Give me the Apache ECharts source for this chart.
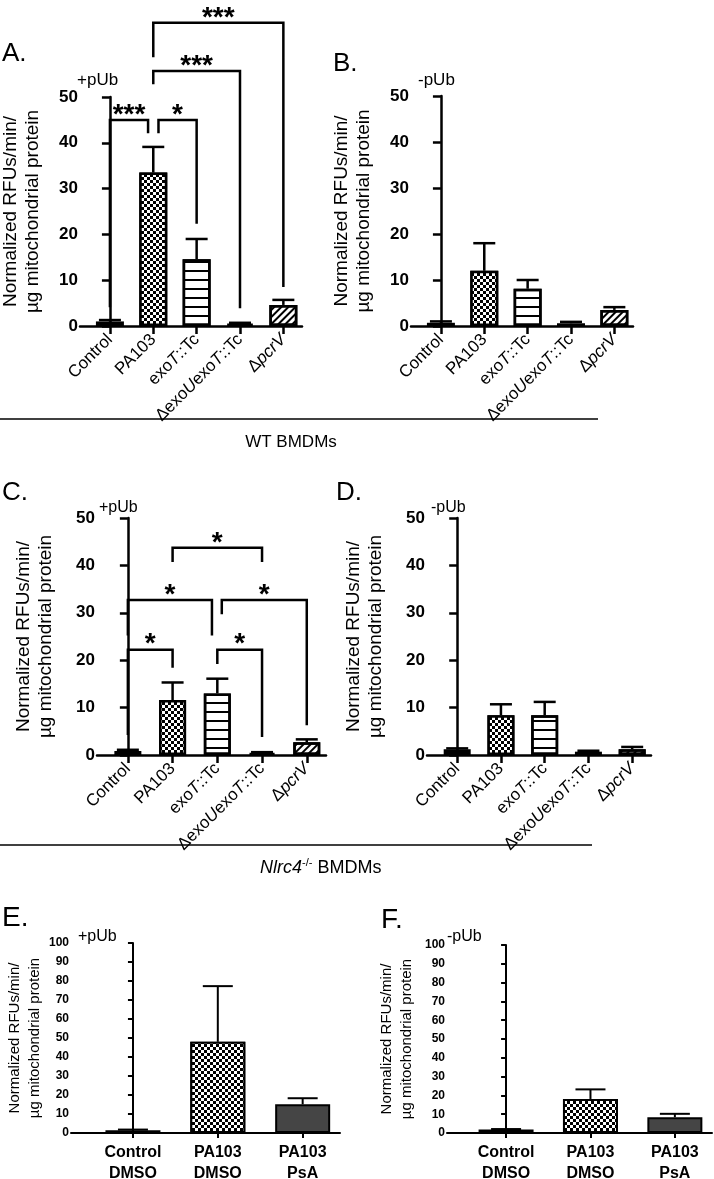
<!DOCTYPE html>
<html>
<head>
<meta charset="utf-8">
<script src="https://cdn.jsdelivr.net/npm/echarts@6/dist/echarts.min.js"></script>
<style>
  html, body { margin: 0; padding: 0; background: #fff; }
  #chart { width: 714px; height: 1179px; }
</style>
</head>
<body>
<div id="chart"></div>
<script>
// categories
const strainLabels = [
  '{n|Control}',
  '{n|PA103}',
  '{n|exo}{i|T}{n|::Tc}',
  '{n|Δexo}{i|U}{n|exo}{i|T}{n|::Tc}',
  '{n|Δ}{i|pcrV}'
];
const drugLabels = ['Control\nDMSO', 'PA103\nDMSO', 'PA103\nPsA'];

// mean and upper error (mean + SEM) per panel
const meanA = [1.0, 33.5, 14.6, 0.5, 4.6];
const errA  = [1.3, 39.1, 19.0, 0.7, 5.7];
const meanB = [0.7, 12.0, 8.1, 0.6, 3.5];
const errB  = [1.0, 18.0, 10.0, 0.9, 4.1];
const meanC = [0.85, 11.6, 13.0, 0.4, 2.7];
const errC  = [1.1, 15.3, 16.1, 0.6, 3.3];
const meanD = [1.2, 8.4, 8.4, 0.7, 1.2];
const errD  = [1.4, 10.7, 11.2, 0.9, 1.7];
const meanE = [1.5, 48.0, 15.1];
const errE  = [1.8, 77.3, 18.3];
const meanF = [1.8, 18.1, 8.4];
const errF  = [2.1, 23.2, 10.2];

// significance brackets: [x left, x right, top, left leg end, right leg end]
const bracketsA = [
  [0, 0.88, 45, 4.1, 42.1],
  [1.12, 2, 45, 42.1, 22.3],
  [1, 3, 55.7, 52.8, 3.9],
  [1, 4, 66.2, 58.7, 8.5]
];
const starsA = ['***', '*', '***', '***'];
const bracketsC = [
  [0, 1, 22.2, 4.2, 18.4],
  [2, 3, 22.2, 19.2, 3.8],
  [0, 1.88, 32.7, 25.2, 25.2],
  [2.1, 4, 32.7, 29.7, 6.3],
  [1, 3, 43.7, 40.7, 40.7]
];
const starsC = ['*', '*', '*', '*', '*'];

const FONT = '"Liberation Sans", Arial, Helvetica, sans-serif';
const yName = 'Normalized RFUs/min/\nµg mitochondrial protein';

const fills = {
  solid: { color: '#000' },
  gray: { color: '#454545' },
  checker: { color: '#000', decal: { symbol: 'rect', symbolSize: 1, color: '#fff',
    dashArrayX: [[3, 3], [0, 3, 3, 0]], dashArrayY: [3, 0] } },
  hstripe: { color: '#fff', decal: { symbol: 'rect', symbolSize: 1, color: '#000',
    dashArrayX: [1, 0], dashArrayY: [1.6, 6.7], rotation: 0 } },
  diag: { color: '#fff', decal: { symbol: 'rect', symbolSize: 1, color: '#000',
    dashArrayX: [1, 0], dashArrayY: [2, 2.5], rotation: -Math.PI / 4 } }
};
const strainFill = ['solid', 'checker', 'hstripe', 'solid', 'diag'];
const drugFill = ['solid', 'checker', 'gray'];

const grids = [], xAxes = [], yAxes = [], series = [];

function addPanel(p) {
  const k = grids.length;
  grids.push({ left: p.left, top: p.top, width: p.width, height: p.height, outerBoundsMode: 'none' });
  const ticks = p.means.map((_, i) => i);
  xAxes.push({
    gridIndex: k, type: 'value', min: p.xmin, max: p.xmax,
    splitLine: { show: false },
    axisLine: { lineStyle: { color: '#000', width: p.lw } },
    axisTick: { customValues: ticks, length: p.tickLen, lineStyle: { color: '#000', width: p.lw } },
    axisLabel: p.labelCfg
  });
  yAxes.push({
    gridIndex: k, type: 'value', min: 0, max: p.ymax, interval: 10,
    splitLine: { show: false },
    axisLine: { show: true, lineStyle: { color: '#000', width: p.lw } },
    axisTick: { show: true, length: p.tickLen, lineStyle: { color: '#000', width: p.lw } },
    axisLabel: { color: '#000', fontSize: p.yFont, fontWeight: 'bold', fontFamily: FONT, margin: 2 },
    name: yName, nameLocation: 'middle', nameRotate: 90, nameGap: p.nameGap,
    nameTextStyle: { color: '#000', fontSize: p.nameFont, lineHeight: p.nameLine, fontFamily: FONT }
  });
  series.push({
    type: 'bar', xAxisIndex: k, yAxisIndex: k, barWidth: p.barWidth,
    data: p.means.map((v, i) => ({
      value: [i, v],
      itemStyle: Object.assign({ borderColor: '#000', borderWidth: p.lw }, fills[p.fill[i]])
    })),
    animation: false
  });
  series.push({
    type: 'custom', xAxisIndex: k, yAxisIndex: k, clip: false, z: 5,
    data: p.means.map((v, i) => [i, v, p.errs[i]]),
    renderItem: (params, api) => {
      const a = api.coord([api.value(0), api.value(1)]);
      const b = api.coord([api.value(0), api.value(2)]);
      const w = p.capWidth / 2;
      const st = { stroke: '#000', lineWidth: p.lw };
      return { type: 'group', children: [
        { type: 'line', shape: { x1: a[0], y1: a[1], x2: b[0], y2: b[1] }, style: st },
        { type: 'line', shape: { x1: b[0] - w, y1: b[1], x2: b[0] + w, y2: b[1] }, style: st }
      ] };
    },
    animation: false
  });
  if (p.brackets) {
    series.push({
      type: 'custom', xAxisIndex: k, yAxisIndex: k, clip: false, z: 6,
      data: p.brackets,
      renderItem: (params, api) => {
        const x1 = api.value(0), x2 = api.value(1), top = api.value(2);
        const pl = api.coord([x1, api.value(3)]);
        const tl = api.coord([x1, top]);
        const tr = api.coord([x2, top]);
        const pr = api.coord([x2, api.value(4)]);
        return { type: 'group', children: [
          { type: 'polyline', shape: { points: [pl, tl, tr, pr] },
            style: { stroke: '#000', lineWidth: p.lw, fill: null } },
          { type: 'text', style: { text: p.stars[params.dataIndex], x: (tl[0] + tr[0]) / 2, y: tl[1] - 5,
            align: 'center', verticalAlign: 'middle', font: 'bold 28px ' + FONT, fill: '#000' } }
        ] };
      },
      animation: false
    });
  }
}

const strainLabelCfg = {
  customValues: [0, 1, 2, 3, 4], rotate: 45, margin: 11, color: '#000',
  formatter: v => strainLabels[v],
  rich: {
    n: { fontSize: 17, fontFamily: FONT, color: '#000' },
    i: { fontSize: 17, fontFamily: FONT, fontStyle: 'italic', color: '#000' }
  }
};
const drugLabelCfg = {
  customValues: [0, 1, 2], margin: 9, color: '#000', fontSize: 16, fontWeight: 'bold', lineHeight: 21, fontFamily: FONT,
  formatter: v => drugLabels[v]
};

const common = { lw: 2.5, tickLen: 8, yFont: 17, nameFont: 19, nameLine: 22, nameGap: 36,
  barWidth: 28, capWidth: 22, ymax: 50, xmin: -0.69, xmax: 4.43, labelCfg: strainLabelCfg, fill: strainFill };

addPanel(Object.assign({}, common, { left: 80, top: 97, width: 222, height: 229,
  means: meanA, errs: errA, brackets: bracketsA, stars: starsA }));
addPanel(Object.assign({}, common, { left: 411, top: 96, width: 222, height: 230,
  means: meanB, errs: errB }));
addPanel(Object.assign({}, common, { left: 97, top: 518, width: 229, height: 237, barWidth: 27,
  means: meanC, errs: errC, brackets: bracketsC, stars: starsC, nameGap: 40 }));
addPanel(Object.assign({}, common, { left: 427, top: 518, width: 224, height: 237, barWidth: 27,
  means: meanD, errs: errD, nameGap: 40 }));

const commonEF = { lw: 2, tickLen: 5, yFont: 12, nameFont: 15, nameLine: 20, barWidth: 55, capWidth: 30,
  ymax: 100, labelCfg: drugLabelCfg, fill: drugFill };
addPanel(Object.assign({}, commonEF, { left: 71, top: 943, width: 269, height: 190, xmin: -0.73, xmax: 2.44,
  means: meanE, errs: errE, nameGap: 26 }));
addPanel(Object.assign({}, commonEF, { left: 447, top: 945, width: 265, height: 188, xmin: -0.70, xmax: 2.44,
  means: meanF, errs: errF, nameGap: 30 }));

function txt(text, x, y, size, extra) {
  return { type: 'text', x: x, y: y, silent: true,
    style: Object.assign({ text: text, font: size + 'px ' + FONT, fill: '#000', verticalAlign: 'middle' }, extra || {}) };
}

const graphic = [
  txt('A.', 2, 54, 26), txt('B.', 333, 64, 26), txt('C.', 2, 493, 26),
  txt('D.', 336, 493, 26), txt('E.', 2, 918, 28), txt('F.', 381, 920, 28),
  txt('+pUb', 77, 80, 17), txt('-pUb', 418, 80, 17), txt('+pUb', 99, 508, 16),
  txt('-pUb', 431, 508, 16), txt('+pUb', 78, 937, 16), txt('-pUb', 447, 937, 16),
  { type: 'line', shape: { x1: 0, y1: 419, x2: 598, y2: 419 }, style: { stroke: '#000', lineWidth: 1.5 } },
  { type: 'line', shape: { x1: 0, y1: 845, x2: 592, y2: 845 }, style: { stroke: '#000', lineWidth: 1.5 } },
  txt('WT BMDMs', 291, 442, 17, { align: 'center' }),
  { type: 'text', x: 260, y: 868, silent: true, style: {
    text: '{i|Nlrc4}{s|-/-}{n| BMDMs}', verticalAlign: 'middle',
    rich: {
      i: { fontSize: 18, fontFamily: FONT, fontStyle: 'italic', fill: '#000', lineHeight: 22 },
      s: { fontSize: 11, fontFamily: FONT, fill: '#000', verticalAlign: 'top', lineHeight: 22 },
      n: { fontSize: 18, fontFamily: FONT, fill: '#000', lineHeight: 22 }
    } } }
];

const chart = echarts.init(document.getElementById('chart'));
chart.setOption({
  animation: false,
  backgroundColor: '#fff',
  textStyle: { fontFamily: FONT },
  grid: grids, xAxis: xAxes, yAxis: yAxes, series: series, graphic: graphic
});
</script>
</body>
</html>
